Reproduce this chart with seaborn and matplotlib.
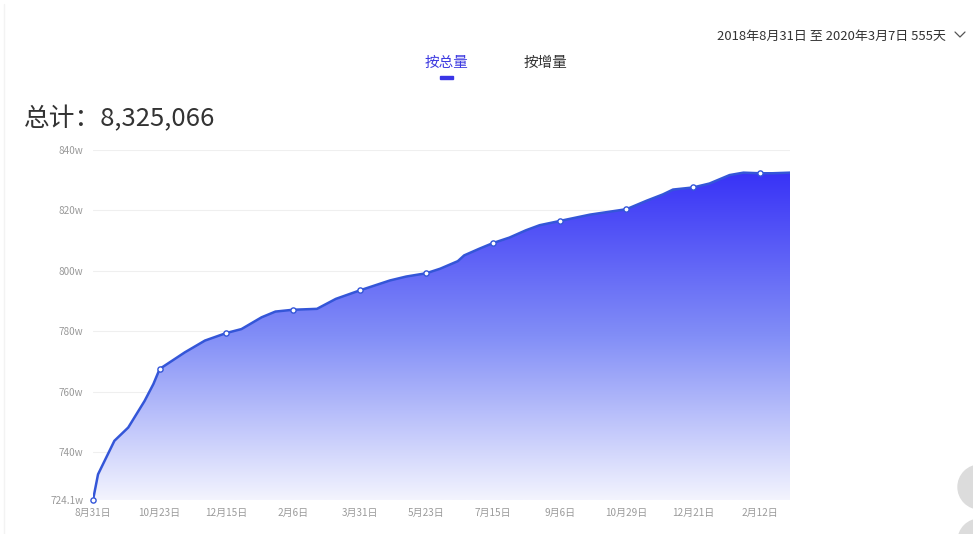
import numpy as np
import pandas as pd
import matplotlib
matplotlib.use("Agg")
import matplotlib.pyplot as plt
import matplotlib.dates as mdates
from matplotlib.colors import LinearSegmentedColormap
from matplotlib.patches import Circle, Rectangle
from matplotlib.lines import Line2D
import seaborn as sns

# ---------------- data ----------------
dates = ["2018-08-31", "2018-09-04", "2018-09-17", "2018-09-28", "2018-10-11", "2018-10-18",
         "2018-10-23", "2018-11-12", "2018-11-28", "2018-12-15", "2018-12-27", "2019-01-12",
         "2019-01-23", "2019-02-06", "2019-02-25", "2019-03-12", "2019-03-31", "2019-04-24",
         "2019-05-07", "2019-05-23", "2019-06-03", "2019-06-17", "2019-06-22", "2019-07-04",
         "2019-07-15", "2019-07-28", "2019-08-10", "2019-08-21", "2019-09-06", "2019-09-30",
         "2019-10-29", "2019-11-14", "2019-11-27", "2019-12-05", "2019-12-21", "2020-01-03",
         "2020-01-19", "2020-01-30", "2020-02-12", "2020-02-22", "2020-03-07"]
values_w = [724.1, 732.6, 743.7, 748.1, 756.9, 762.5,
            767.5, 773.0, 776.9, 779.4, 780.7, 784.6,
            786.5, 787.1, 787.4, 790.7, 793.5, 796.8,
            798.1, 799.2, 800.7, 803.2, 805.1, 807.3,
            809.2, 811.0, 813.4, 815.1, 816.5, 818.6,
            820.4, 823.2, 825.3, 826.9, 827.6, 828.9,
            831.7, 832.5, 832.3, 832.3, 832.5]
tick_dates = ["2018-08-31", "2018-10-23", "2018-12-15", "2019-02-06", "2019-03-31", "2019-05-23",
              "2019-07-15", "2019-09-06", "2019-10-29", "2019-12-21", "2020-02-12"]
tick_labels = ["8月31日", "10月23日", "12月15日", "2月6日", "3月31日", "5月23日",
               "7月15日", "9月6日", "10月29日", "12月21日", "2月12日"]
y_ticks = [724.1, 740, 760, 780, 800, 820, 840]
y_tick_labels = ["724.1w", "740w", "760w", "780w", "800w", "820w", "840w"]
total_text = "总计：8,325,066"
tabs = ["按总量", "按增量"]
range_text = "2018年8月31日 至 2020年3月7日 555天"

# ---------------- style ----------------
sns.set_style("white")
plt.rcParams['font.family'] = ['Noto Sans CJK SC', 'DejaVu Sans']

df = pd.DataFrame({"date": pd.to_datetime(dates), "value": values_w})
tick_dt = pd.to_datetime(tick_dates)
mk = df[df["date"].isin(tick_dt)]

fig = plt.figure(figsize=(9.73, 5.34), dpi=100)
W, H = 973, 534
ax = fig.add_axes([93 / W, (H - 500) / H, (790 - 93) / W, 350 / H])

line_color = "#3456d8"

# gradient fill under curve
x0 = mdates.date2num(df["date"].iloc[0])
x1 = mdates.date2num(df["date"].iloc[-1])
ymin, ymax = y_ticks[0], y_ticks[-1]
poly = ax.fill_between(df["date"], df["value"], ymin, color="none", lw=0)
cmap = LinearSegmentedColormap.from_list(
    "g", [(0.0, (243/255, 244/255, 254/255)),
          (0.5, (130/255, 142/255, 247/255)),
          (1.0, (56/255, 50/255, 246/255))])
grad = np.linspace(0, 1, 256).reshape(-1, 1)
top_val = max(values_w)
im = ax.imshow(grad, extent=[x0, x1, ymin, top_val], origin="lower", aspect="auto",
               cmap=cmap, zorder=1)
path = poly.get_paths()[0]
im.set_clip_path(path, transform=ax.transData)

sns.lineplot(data=df, x="date", y="value", ax=ax, color=line_color, linewidth=1.8, zorder=3)
sc = sns.scatterplot(data=mk, x="date", y="value", ax=ax, s=14, color="white",
                     edgecolor=line_color, linewidth=1.0, zorder=4, clip_on=False)

ax.set_xlim(df["date"].iloc[0], df["date"].iloc[-1])
ax.set_ylim(ymin, ymax)
ax.set_xticks(tick_dt)
ax.set_xticklabels(tick_labels)
ax.set_yticks(y_ticks)
ax.set_yticklabels(y_tick_labels)
ax.set_xlabel("")
ax.set_ylabel("")
ax.tick_params(axis="both", length=0, labelsize=7.2, colors="#9a9a9a")
ax.tick_params(axis="y", pad=7)
ax.tick_params(axis="x", pad=6)
ax.yaxis.grid(True, color="#efefef", linewidth=0.8, zorder=0)
ax.set_axisbelow(True)
for s in ax.spines.values():
    s.set_visible(False)

# ---------------- header texts ----------------
fig.text(24 / W, 1 - 119 / H, total_text, fontsize=18.5, color="#333333", va="center", ha="left")
fig.text(446 / W, 1 - 62.5 / H, tabs[0], fontsize=10.5, color="#3d3ae0", va="center", ha="center")
fig.text(545 / W, 1 - 62.5 / H, tabs[1], fontsize=10.5, color="#333333", va="center", ha="center")
fig.patches.append(Rectangle((440 / 100, (H - 79) / 100), 13 / 100, 3 / 100,
                             transform=fig.dpi_scale_trans, color="#3a35e6", figure=fig))
fig.text(946 / W, 1 - 36 / H, range_text, fontsize=9.4, color="#333333", va="center", ha="right")
fig.lines.append(Line2D([955 / 100, 960 / 100, 965 / 100],
                        [(H - 32) / 100, (H - 37) / 100, (H - 32) / 100],
                        transform=fig.dpi_scale_trans, color="#555555", lw=0.9, figure=fig))

# page decorations (edge buttons and border)
fig.patches.append(Circle((980 / 100, (H - 487) / 100), 22 / 100, transform=fig.dpi_scale_trans,
                          color="#dcdcdc", figure=fig))
fig.patches.append(Circle((980 / 100, (H - 541) / 100), 22 / 100, transform=fig.dpi_scale_trans,
                          color="#dcdcdc", figure=fig))
fig.lines.append(Line2D([4 / 100, 4 / 100], [0, (H - 4) / 100], transform=fig.dpi_scale_trans,
                        color="#f3f3f3", lw=1.0, figure=fig))

fig.savefig("out.png", dpi=100)
